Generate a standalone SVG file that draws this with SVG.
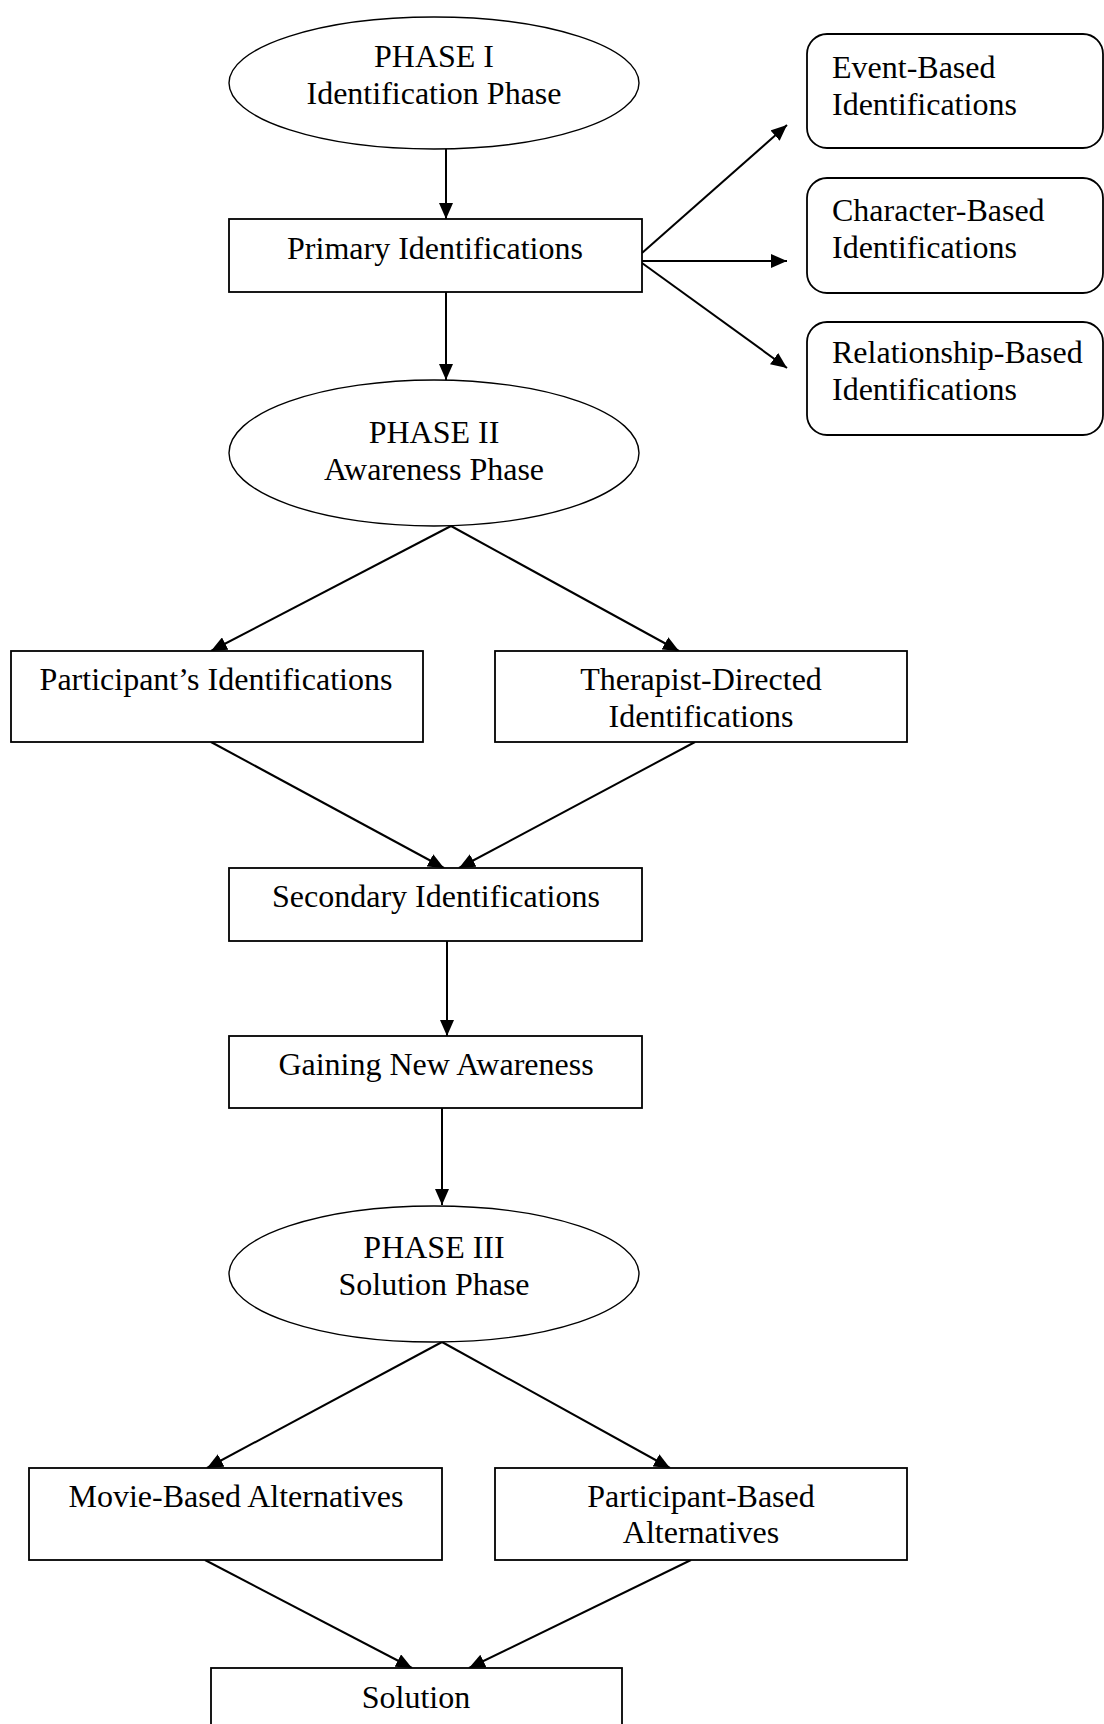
<svg xmlns="http://www.w3.org/2000/svg" width="1104" height="1724" viewBox="0 0 1104 1724">
<defs>
<style>
.n{fill:#fff;stroke:#000;stroke-width:1.8}
.e{fill:#fff;stroke:#000;stroke-width:1.4}
.t{font-family:"Liberation Serif","Times New Roman",serif;font-size:32px;fill:#000}
.m{text-anchor:middle}
.c{fill:none;stroke:#000;stroke-width:2;marker-end:url(#ah)}
</style>
<marker id="ah" markerWidth="16" markerHeight="14" refX="16" refY="7" orient="auto" markerUnits="userSpaceOnUse">
<path d="M0,0 L16,7 L0,14 z" fill="#000"/>
</marker>
</defs>
<rect width="1104" height="1724" fill="#fff"/>
<g id="connectors">
<line class="c" x1="446" y1="148" x2="446" y2="219"/>
<line class="c" x1="446" y1="292" x2="446" y2="380"/>
<line class="c" x1="642" y1="253" x2="787" y2="125"/>
<line class="c" x1="642" y1="261" x2="787" y2="261"/>
<line class="c" x1="642" y1="263" x2="787" y2="368"/>
<line class="c" x1="451" y1="526" x2="211" y2="651"/>
<line class="c" x1="451" y1="526" x2="679" y2="651"/>
<line class="c" x1="211" y1="742" x2="444" y2="868"/>
<line class="c" x1="695" y1="742" x2="459" y2="868"/>
<line class="c" x1="447" y1="941" x2="447" y2="1036"/>
<line class="c" x1="442" y1="1108" x2="442" y2="1205"/>
<line class="c" x1="442" y1="1342" x2="207" y2="1468"/>
<line class="c" x1="442" y1="1342" x2="670" y2="1468"/>
<line class="c" x1="205" y1="1560" x2="412" y2="1668"/>
<line class="c" x1="691" y1="1560" x2="469" y2="1668"/>
</g>
<g id="phase1">
<ellipse class="e" cx="434" cy="83" rx="205" ry="66"/>
<text class="t m" x="434" y="67">PHASE I</text>
<text class="t m" x="434" y="104">Identification Phase</text>
</g>
<g id="primary">
<rect class="n" x="229" y="219" width="413" height="73"/>
<text class="t m" x="435" y="259">Primary Identifications</text>
</g>
<g id="event">
<rect class="n" x="807" y="34" width="296" height="114" rx="20"/>
<text class="t" x="832" y="78">Event-Based</text>
<text class="t" x="832" y="115">Identifications</text>
</g>
<g id="character">
<rect class="n" x="807" y="178" width="296" height="115" rx="20"/>
<text class="t" x="832" y="221">Character-Based</text>
<text class="t" x="832" y="258">Identifications</text>
</g>
<g id="relationship">
<rect class="n" x="807" y="322" width="296" height="113" rx="20"/>
<text class="t" x="832" y="363">Relationship-Based</text>
<text class="t" x="832" y="400">Identifications</text>
</g>
<g id="phase2">
<ellipse class="e" cx="434" cy="453" rx="205" ry="73"/>
<text class="t m" x="434" y="443">PHASE II</text>
<text class="t m" x="434" y="480">Awareness Phase</text>
</g>
<g id="participants">
<rect class="n" x="11" y="651" width="412" height="91"/>
<text class="t m" x="216" y="690">Participant’s Identifications</text>
</g>
<g id="therapist">
<rect class="n" x="495" y="651" width="412" height="91"/>
<text class="t m" x="701" y="690">Therapist-Directed</text>
<text class="t m" x="701" y="727">Identifications</text>
</g>
<g id="secondary">
<rect class="n" x="229" y="868" width="413" height="73"/>
<text class="t m" x="436" y="907">Secondary Identifications</text>
</g>
<g id="gaining">
<rect class="n" x="229" y="1036" width="413" height="72"/>
<text class="t m" x="436" y="1075">Gaining New Awareness</text>
</g>
<g id="phase3">
<ellipse class="e" cx="434" cy="1274" rx="205" ry="68"/>
<text class="t m" x="434" y="1258">PHASE III</text>
<text class="t m" x="434" y="1295">Solution Phase</text>
</g>
<g id="movie">
<rect class="n" x="29" y="1468" width="413" height="92"/>
<text class="t m" x="236" y="1507">Movie-Based Alternatives</text>
</g>
<g id="participantbased">
<rect class="n" x="495" y="1468" width="412" height="92"/>
<text class="t m" x="701" y="1507">Participant-Based</text>
<text class="t m" x="701" y="1543">Alternatives</text>
</g>
<g id="solution">
<rect class="n" x="211" y="1668" width="411" height="80"/>
<text class="t m" x="416" y="1708">Solution</text>
</g>
</svg>
